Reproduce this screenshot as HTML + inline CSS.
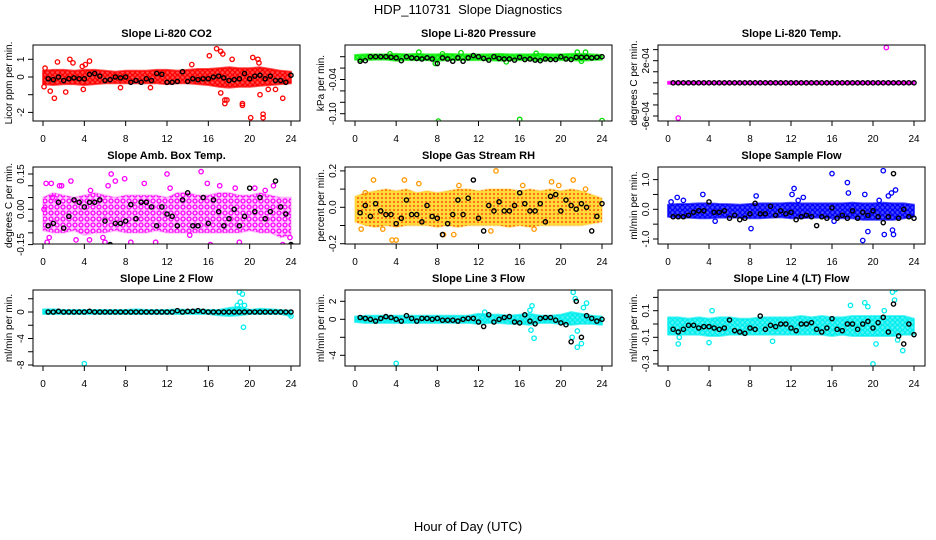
<!DOCTYPE html>
<html><head><meta charset="utf-8"><style>
html,body{margin:0;padding:0;background:#fff;}
svg{display:block;font-family:"Liberation Sans",sans-serif;}
</style></head><body>
<svg id="chart" width="936" height="540" viewBox="0 0 936 540" xmlns="http://www.w3.org/2000/svg">
<defs>
<pattern id="pat-red" width="5" height="5" patternUnits="userSpaceOnUse"><circle cx="2.5" cy="2.5" r="2" fill="none" stroke="#ff0000" stroke-width="1.3"/></pattern>
<pattern id="pat-green" width="5" height="5" patternUnits="userSpaceOnUse"><circle cx="2.5" cy="2.5" r="2" fill="none" stroke="#00ee00" stroke-width="1.3"/></pattern>
<pattern id="pat-magenta" width="6" height="6" patternUnits="userSpaceOnUse"><circle cx="3" cy="3" r="2" fill="none" stroke="#ff00ff" stroke-width="1.3"/></pattern>
<pattern id="pat-orange" width="4" height="4" patternUnits="userSpaceOnUse"><rect width="4" height="4" fill="#ffd000" fill-opacity="0.7"/><circle cx="2" cy="2" r="0.9" fill="#ff3000"/></pattern>
<pattern id="pat-blue" width="5" height="5" patternUnits="userSpaceOnUse"><circle cx="2.5" cy="2.5" r="2" fill="none" stroke="#0000ff" stroke-width="1.3"/></pattern>
<pattern id="pat-cyan" width="5" height="5" patternUnits="userSpaceOnUse"><circle cx="2.5" cy="2.5" r="2" fill="none" stroke="#00eeee" stroke-width="1.3"/></pattern>
</defs>
<text x="468" y="14" text-anchor="middle" font-size="13">HDP_110731&#160;&#160;Slope Diagnostics</text>
<text x="468" y="531" text-anchor="middle" font-size="13">Hour of Day (UTC)</text>
</svg>
<script>
// shared times for black (averaged) series
const blackT = [0.5,1,1.5,2,2.5,3,3.5,4,4.5,5,5.5,6,6.5,7,7.5,8,8.5,9,9.5,10,10.5,11,11.5,12,12.5,13,13.5,14,14.5,15,15.5,16,16.5,17,17.5,18,18.5,19,19.5,20,20.5,21,21.5,22,22.5,23,23.5,24];
const bandHours = [0,1,2,3,4,5,6,7,8,9,10,11,12,13,14,15,16,17,18,19,20,21,22,23,24];
const xTicks = [0,4,8,12,16,20,24];

// Panel 1: CO2
const co2Hi = [0.35,0.4,0.4,0.35,0.4,0.4,0.35,0.3,0.35,0.35,0.35,0.4,0.4,0.35,0.4,0.45,0.45,0.5,0.55,0.5,0.5,0.55,0.45,0.35,0.3];
const co2Lo = [-0.4,-0.45,-0.4,-0.4,-0.45,-0.4,-0.35,-0.35,-0.35,-0.35,-0.35,-0.35,-0.4,-0.35,-0.35,-0.4,-0.45,-0.55,-0.6,-0.55,-0.55,-0.5,-0.45,-0.4,-0.35];
const co2OutX = [0.2,0.7,1.1,1.4,2.2,2.6,2.9,3.9,4.1,4.5,7.5,10.4,14.4,16.1,16.8,17.2,17.4,17.2,17.6,17.6,17.8,18.3,19.3,19.3,20.1,20.3,20.8,20.9,21.0,21.3,21.3,21.8,23.2,22.5,3.8,0.1];
const co2OutY = [0.5,-0.8,-1.2,0.85,-0.85,1.0,0.8,-0.7,0.7,0.9,-0.6,-0.6,0.7,1.2,1.6,1.45,1.3,-0.9,-1.3,-1.5,-1.3,1.0,-1.5,-1.6,-2.3,1.1,1.0,0.8,-1.0,-2.1,-2.3,-0.7,-1.2,-0.7,0.6,-0.55];
const co2Black = [-0.1,-0.15,0.0,-0.2,-0.1,-0.05,-0.1,-0.1,0.15,0.2,0.05,-0.2,-0.15,0.0,-0.05,0.0,-0.3,-0.2,-0.3,-0.1,-0.2,0.2,0.15,-0.3,-0.3,-0.25,0.3,-0.25,-0.1,-0.15,-0.1,-0.1,0.0,0.05,-0.05,-0.2,-0.15,-0.1,0.2,-0.1,0.05,0.1,-0.1,0.05,-0.2,-0.2,-0.3,0.1];

// Panel 2: Pressure
const presHi = [0.003,0.004,0.004,0.004,0.005,0.004,0.005,0.004,0.004,0.005,0.004,0.004,0.004,0.004,0.005,0.004,0.004,0.004,0.005,0.004,0.004,0.005,0.005,0.004,0.003];
const presLo = [-0.005,-0.006,-0.005,-0.005,-0.007,-0.006,-0.006,-0.006,-0.007,-0.006,-0.006,-0.006,-0.006,-0.006,-0.007,-0.006,-0.006,-0.006,-0.007,-0.006,-0.006,-0.006,-0.007,-0.006,-0.005];
const presOutX = [8.1,16,24,6.2,10.3,7.8,21.6,22.4,3.4,17.6,8.5,14.7,22.0,0.5];
const presOutY = [-0.113,-0.11,-0.112,0.008,0.007,-0.012,0.008,0.008,0.005,0.006,0.005,-0.009,-0.008,-0.005];
const presBlack = [-0.008,-0.007,0,0,0,0,-0.001,-0.002,-0.007,0,-0.002,-0.003,-0.004,-0.002,-0.004,-0.012,-0.002,-0.004,-0.008,-0.002,-0.008,-0.002,0.002,0,-0.003,-0.006,0,-0.003,-0.004,-0.004,-0.006,-0.001,-0.005,-0.004,-0.006,-0.007,-0.004,-0.005,-0.005,0,-0.004,-0.005,-0.001,-0.001,-0.001,-0.002,-0.001,0];

// Panel 3: Li-820 Temp
const tempHi = [-1.05e-4,-1.05e-4,-1.05e-4,-1.05e-4,-1.05e-4,-1.05e-4,-1.05e-4,-1.05e-4,-1.05e-4,-1.05e-4,-1.05e-4,-1.05e-4,-1.05e-4,-1.05e-4,-1.05e-4,-1.05e-4,-1.05e-4,-1.05e-4,-1.05e-4,-1.05e-4,-1.05e-4,-1.05e-4,-1.05e-4,-1.05e-4,-1.05e-4];
const tempLo = [-1.35e-4,-1.35e-4,-1.35e-4,-1.35e-4,-1.35e-4,-1.35e-4,-1.35e-4,-1.35e-4,-1.35e-4,-1.35e-4,-1.35e-4,-1.35e-4,-1.35e-4,-1.35e-4,-1.35e-4,-1.35e-4,-1.35e-4,-1.35e-4,-1.35e-4,-1.35e-4,-1.35e-4,-1.35e-4,-1.35e-4,-1.35e-4,-1.35e-4];
const tempOutX = [1.0,21.3];
const tempOutY = [-6.3e-4,3.9e-4];
const tempBlack = [-1.2e-4,-1.2e-4,-1.2e-4,-1.2e-4,-1.2e-4,-1.2e-4,-1.2e-4,-1.2e-4,-1.2e-4,-1.2e-4,-1.2e-4,-1.2e-4,-1.2e-4,-1.2e-4,-1.2e-4,-1.2e-4,-1.2e-4,-1.2e-4,-1.2e-4,-1.2e-4,-1.2e-4,-1.2e-4,-1.2e-4,-1.2e-4,-1.2e-4,-1.2e-4,-1.2e-4,-1.2e-4,-1.2e-4,-1.2e-4,-1.2e-4,-1.2e-4,-1.2e-4,-1.2e-4,-1.2e-4,-1.2e-4,-1.2e-4,-1.2e-4,-1.2e-4,-1.2e-4,-1.2e-4,-1.2e-4,-1.2e-4,-1.2e-4,-1.2e-4,-1.2e-4,-1.2e-4,-1.2e-4];

// Panel 4: Amb. Box Temp
const ambHi = [0.05,0.07,0.06,0.05,0.06,0.07,0.06,0.05,0.06,0.06,0.06,0.06,0.05,0.07,0.07,0.06,0.06,0.07,0.07,0.06,0.06,0.07,0.06,0.05,0.05];
const ambLo = [-0.09,-0.1,-0.1,-0.09,-0.11,-0.1,-0.1,-0.09,-0.1,-0.1,-0.1,-0.09,-0.1,-0.1,-0.1,-0.1,-0.1,-0.1,-0.1,-0.1,-0.09,-0.1,-0.1,-0.12,-0.11];
const ambOutX = [0.1,0.3,0.8,1.6,1.8,0.4,0.6,2.7,3.2,4.5,5.8,6.0,6.3,6.6,7.0,7.4,7.9,8.5,9.8,10.9,12.0,12.3,14.2,15.3,15.9,16.2,17.1,18.1,18.6,19.0,20.5,21.5,22.3,23.2,23.9,0.9,4.6];
const ambOutY = [0.0,0.11,0.11,0.1,0.1,-0.14,-0.12,0.12,-0.13,-0.13,-0.12,-0.14,0.1,0.15,0.12,-0.16,0.13,-0.14,0.11,-0.14,0.15,0.09,-0.11,0.16,0.11,-0.15,0.1,-0.16,0.09,-0.14,0.09,0.08,0.1,-0.15,-0.12,0.05,0.08];
const ambBlack = [-0.07,-0.06,0.03,-0.08,-0.03,0.04,0.03,0.01,0.03,0.03,0.04,-0.05,-0.15,-0.06,-0.06,-0.05,0.02,-0.04,0.03,0.03,0.01,-0.07,0.01,-0.02,-0.03,-0.07,0.04,0.07,-0.07,-0.07,0.05,-0.06,0.04,-0.01,-0.07,-0.04,0.0,-0.07,-0.03,0.09,-0.01,0.05,-0.04,-0.01,0.12,0.01,-0.02,-0.15];

// Panel 5: Gas Stream RH
const rhHi = [0.06,0.08,0.09,0.1,0.09,0.1,0.08,0.09,0.08,0.09,0.1,0.1,0.09,0.1,0.1,0.1,0.09,0.1,0.09,0.1,0.09,0.1,0.09,0.07,0.05];
const rhLo = [-0.08,-0.1,-0.11,-0.1,-0.11,-0.1,-0.1,-0.1,-0.11,-0.1,-0.11,-0.1,-0.1,-0.1,-0.1,-0.11,-0.1,-0.11,-0.1,-0.1,-0.1,-0.1,-0.1,-0.09,-0.08];
const rhOutX = [0.6,1.8,2.7,3.6,4.0,4.8,6.2,8.6,9.6,13.7,13.2,16.3,19.1,19.8,21.2,22.4,1.0,10.1,17.4];
const rhOutY = [-0.12,0.15,-0.12,-0.18,-0.18,0.15,0.13,-0.15,-0.15,0.2,-0.13,0.12,0.14,0.12,0.15,0.1,0.08,0.12,-0.12];
const rhBlack = [-0.03,0.01,-0.05,0.02,-0.02,-0.04,-0.04,-0.09,-0.06,0.04,-0.04,-0.04,-0.08,0.01,-0.05,-0.06,-0.15,-0.09,-0.04,0.04,-0.04,0.05,0.15,-0.06,-0.13,0.01,-0.02,0.03,-0.02,-0.02,0.01,0.08,0.02,-0.02,-0.02,0.02,-0.08,0.06,0.07,-0.02,0.04,0.01,-0.01,0.02,0.0,-0.13,-0.05,0.02];

// Panel 6: Sample Flow
const flowHi = [0.15,0.18,0.18,0.2,0.2,0.18,0.17,0.15,0.18,0.2,0.2,0.2,0.22,0.2,0.2,0.2,0.2,0.2,0.22,0.2,0.2,0.22,0.2,0.2,0.15];
const flowLo = [-0.25,-0.28,-0.28,-0.3,-0.3,-0.28,-0.28,-0.28,-0.3,-0.3,-0.28,-0.27,-0.3,-0.3,-0.28,-0.28,-0.3,-0.3,-0.3,-0.35,-0.35,-0.35,-0.35,-0.3,-0.25];
const flowOutX = [0.3,0.9,3.4,4.6,8.1,8.6,12.1,12.3,12.7,13.2,16.0,16.2,17.5,17.6,19.0,19.2,19.5,20.6,21.0,21.1,21.5,21.8,21.9,22.2,22.0,1.5];
const flowOutY = [0.25,0.4,0.5,-0.4,-0.65,0.45,0.5,0.7,0.3,0.4,1.2,-0.4,0.9,0.55,-1.05,0.5,-0.75,0.3,1.3,-0.85,0.45,0.55,-0.7,0.65,-0.85,0.3];
const flowBlack = [-0.25,-0.25,-0.25,-0.2,-0.1,-0.05,-0.05,0.25,-0.1,-0.1,-0.05,-0.3,-0.2,-0.35,-0.3,-0.15,0.2,-0.15,-0.15,0.1,-0.2,-0.05,-0.15,-0.1,-0.35,-0.25,-0.2,-0.25,-0.55,-0.25,-0.3,0.05,-0.3,-0.2,-0.3,-0.05,-0.3,-0.1,-0.2,-0.05,-0.25,-0.45,-0.25,1.2,-0.3,0.0,-0.25,-0.3];

// Panel 7: Line 2 Flow
const l2Hi = [0.4,0.4,0.3,0.3,0.3,0.3,0.3,0.3,0.3,0.4,0.3,0.3,0.3,0.4,0.3,0.4,0.3,0.3,0.6,0.8,0.3,0.5,0.4,0.3,0.2];
const l2Lo = [-0.3,-0.3,-0.3,-0.3,-0.3,-0.3,-0.3,-0.3,-0.3,-0.3,-0.3,-0.3,-0.3,-0.3,-0.3,-0.3,-0.3,-0.5,-0.6,-0.5,-0.3,-0.3,-0.3,-0.3,-0.6];
const l2OutX = [4.0,19.0,19.3,19.4,18.8,19.1,19.5,24.0];
const l2OutY = [-7.8,3.0,2.7,-2.3,1.0,1.5,1.0,-0.6];
const l2Black = [0,0,0.1,0,0,0,0,0,0.1,0,0,0,0,0,0,0,0,0,0,0,0,0,0,0,0,0.2,0,0.1,0.1,0.2,0.1,0,0,0,0,0,0,0,0,0,0,0,0,0,0,0,0,0];

// Panel 8: Line 3 Flow
const l3Hi = [0.3,0.4,0.4,0.4,0.4,0.4,0.4,0.4,0.4,0.4,0.4,0.4,0.6,0.5,0.5,0.4,0.5,0.6,0.4,0.4,0.5,0.8,0.6,0.4,0.3];
const l3Lo = [-0.3,-0.4,-0.4,-0.4,-0.4,-0.4,-0.4,-0.4,-0.4,-0.4,-0.4,-0.4,-0.5,-0.4,-0.4,-0.5,-0.5,-0.6,-0.4,-0.4,-0.5,-0.6,-0.5,-0.5,-0.6];
const l3OutX = [4.0,17.0,17.2,17.1,17.4,21.2,21.4,21.6,22.0,22.2,22.5,21.1,21.6,12.6];
const l3OutY = [-4.9,1.0,1.5,-1.2,-2.1,3.0,2.3,-3.1,-2.7,1.3,1.8,-2.0,-1.3,0.8];
const l3Black = [0.2,0.1,0.0,-0.2,0.1,0.3,0.2,0.0,-0.2,0.4,0.1,-0.2,0.1,0.1,0.0,0.1,-0.1,-0.1,-0.1,-0.2,0.0,0.1,0.1,-0.3,-0.8,0.5,-0.3,0.0,0.2,0.3,-0.3,-0.4,0.5,-0.2,-0.5,0.1,0.2,0.2,-0.1,-0.4,-0.6,-2.5,2.0,-2.0,0.4,0.1,-0.2,0.0];

// Panel 9: Line 4 (LT) Flow
const l4Hi = [0.05,0.05,0.04,0.05,0.04,0.05,0.05,0.04,0.04,0.05,0.05,0.05,0.05,0.06,0.05,0.06,0.05,0.05,0.06,0.06,0.06,0.06,0.06,0.06,0.04];
const l4Lo = [-0.08,-0.08,-0.08,-0.08,-0.09,-0.09,-0.08,-0.08,-0.08,-0.08,-0.08,-0.08,-0.08,-0.08,-0.08,-0.08,-0.09,-0.08,-0.09,-0.09,-0.09,-0.09,-0.09,-0.08,-0.08];
const l4OutX = [20.0,21.9,22.2,22.1,22.9,1.0,10.2,19.5,20.3,22.4,4.0,4.3,17.8,19.2,1.1,21.1];
const l4OutY = [-0.3,0.24,0.26,0.18,-0.2,-0.15,-0.13,0.13,-0.15,-0.12,-0.14,0.1,0.14,0.16,-0.1,0.1];
const l4Black = [-0.04,-0.06,-0.04,-0.01,-0.01,-0.03,-0.02,-0.02,-0.03,-0.04,-0.03,0.03,-0.05,-0.06,-0.07,-0.03,-0.04,0.06,-0.04,-0.01,-0.02,0.0,0.0,-0.03,-0.05,0.0,0.0,0.01,-0.04,-0.06,-0.03,0.04,-0.04,-0.05,0.0,0.0,-0.04,0.0,0.02,-0.03,0.01,0.05,-0.06,0.15,-0.09,-0.15,0.0,-0.08];

const NS = 'http://www.w3.org/2000/svg';
const svg = document.getElementById('chart');
function mk(tag, attrs, parent) {
  const el = document.createElementNS(NS, tag);
  for (const k in attrs) el.setAttribute(k, attrs[k]);
  (parent || svg).appendChild(el);
  return el;
}
const cols = [{l:33,r:300,x0:43,x1:291},{l:345,r:612,x0:355,x1:602},{l:658,r:925,x0:668,x1:914}];
const rows = [{t:45,b:121},{t:167,b:244},{t:290,b:366}];

function panel(p) {
  const c = cols[p.col], r = rows[p.row];
  const g = mk('g', {});
  
  
  const xs = v => c.x0 + (v / 24) * (c.x1 - c.x0);
  const ys = v => p.py0 + (v - p.v0) * (p.py1 - p.py0) / (p.v1 - p.v0);
  const clip = mk('clipPath', {id: 'clip-' + p.name}, g);
  mk('rect', {x: c.l, y: r.t, width: c.r - c.l, height: r.b - r.t}, clip);
  const dg = mk('g', {'clip-path': 'url(#clip-' + p.name + ')'}, g);
  let pts = [];
  for (let i = 0; i < bandHours.length; i++) pts.push(xs(bandHours[i]).toFixed(1) + ',' + ys(p.hi[i]).toFixed(1));
  for (let i = bandHours.length - 1; i >= 0; i--) pts.push(xs(bandHours[i]).toFixed(1) + ',' + ys(p.lo[i]).toFixed(1));
  const under = mk('polygon', {points: pts.join(' '), fill: p.color, 'fill-opacity': p.op, stroke: p.color, 'stroke-width': 2, 'stroke-opacity': p.op, 'stroke-linejoin': 'round'}, dg);
  
  
  const band = mk('polygon', {points: pts.join(' '), fill: 'url(#' + p.pat + ')'}, dg);
  
  
  for (let i = 0; i < p.ox.length; i++) {
    const pt = mk('circle', {cx: xs(p.ox[i]), cy: ys(p.oy[i]), r: 2.2, fill: 'none', stroke: p.ring, 'stroke-width': 1.3}, dg);
    
    
  }
  for (let i = 0; i < blackT.length; i++) {
    const pt = mk('circle', {cx: xs(blackT[i]), cy: ys(p.blk[i]), r: 2.1, fill: 'none', stroke: '#000', 'stroke-width': 1.4}, dg);
    
    
  }
  const box = mk('rect', {x: c.l, y: r.t, width: c.r - c.l, height: r.b - r.t, fill: 'none', stroke: '#000', 'stroke-width': 1}, g);
  
  
  mk('line', {x1: xs(0), x2: xs(24), y1: r.b, y2: r.b, stroke: '#000'}, g);
  for (const t of xTicks) {
    mk('line', {x1: xs(t), x2: xs(t), y1: r.b, y2: r.b + 5, stroke: '#000'}, g);
    const tl = mk('text', {x: xs(t), y: r.b + 21, 'text-anchor': 'middle', 'font-size': 10}, g);
    
    
    tl.textContent = t;
  }
  for (let i = 0; i < p.yt.length; i++) {
    const y = ys(p.yt[i]);
    mk('line', {x1: c.l - 5, x2: c.l, y1: y, y2: y, stroke: '#000'}, g);
    if (p.yl[i]) {
      const tl = mk('text', {x: 0, y: 0, transform: 'translate(' + (c.l - 9) + ',' + y + ') rotate(-90)', 'text-anchor': 'middle', 'font-size': 10}, g);
      
      
      tl.textContent = p.yl[i];
    }
  }
  const yl = mk('text', {x: 0, y: 0, transform: 'translate(' + (c.l - 21) + ',' + ((r.t + r.b) / 2) + ') rotate(-90)', 'text-anchor': 'middle', 'font-size': 10}, g);
  
  
  yl.textContent = p.ylab;
  const tt = mk('text', {x: (c.l + c.r) / 2, y: r.t - 8, 'text-anchor': 'middle', 'font-size': 11, 'font-weight': 'bold'}, g);
  
  
  tt.textContent = p.title;
}

panel({name:'co2', col:0,row:0,title:'Slope Li-820 CO2',ylab:'Licor ppm per min.',v0:0,py0:77,v1:1,py1:59.3,yt:[-2,-1,0,1],yl:['-2','','0','1'],hi:co2Hi,lo:co2Lo,ox:co2OutX,oy:co2OutY,blk:co2Black,color:'#ff0000',ring:'#ff0000',pat:'pat-red',op:0.7});
panel({name:'pressure', col:1,row:0,title:'Slope Li-820 Pressure',ylab:'kPa per min.',v0:0,py0:56.7,v1:-0.1,py1:113.7,yt:[-0.1,-0.08,-0.06,-0.04,-0.02,0],yl:['-0.10','','','-0.04','',''],hi:presHi,lo:presLo,ox:presOutX,oy:presOutY,blk:presBlack,color:'#00ee00',ring:'#00dd00',pat:'pat-green',op:0.7});
panel({name:'li820-temp', col:2,row:0,title:'Slope Li-820 Temp.',ylab:'degrees C per min.',v0:-6e-4,py0:116,v1:2e-4,py1:60.7,yt:[-6e-4,-4.4e-4,-2.8e-4,-1.2e-4,0.4e-4,2e-4,3.6e-4],yl:['-6e-04','','','','','2e-04',''],hi:tempHi,lo:tempLo,ox:tempOutX,oy:tempOutY,blk:tempBlack,color:'#ff00ff',ring:'#ff00ff',pat:'pat-magenta',op:0.8});
panel({name:'amb-box-temp', col:0,row:1,title:'Slope Amb. Box Temp.',ylab:'degrees C per min.',v0:0,py0:209.3,v1:0.15,py1:174,yt:[-0.15,-0.1,-0.05,0,0.05,0.1,0.15],yl:['-0.15','','','0.00','','','0.15'],hi:ambHi,lo:ambLo,ox:ambOutX,oy:ambOutY,blk:ambBlack,color:'#ff00ff',ring:'#ff00ff',pat:'pat-magenta',op:0.2});
panel({name:'gas-stream-rh', col:1,row:1,title:'Slope Gas Stream RH',ylab:'percent per min.',v0:0,py0:207.3,v1:0.2,py1:170.9,yt:[-0.2,-0.1,0,0.1,0.2],yl:['-0.2','','0.0','','0.2'],hi:rhHi,lo:rhLo,ox:rhOutX,oy:rhOutY,blk:rhBlack,color:'#ffb000',ring:'#ff9900',pat:'pat-orange',op:0.25});
panel({name:'sample-flow', col:2,row:1,title:'Slope Sample Flow',ylab:'ml/min per min.',v0:0,py0:209.3,v1:1,py1:179.6,yt:[-1,-0.5,0,0.5,1],yl:['-1.0','','0.0','','1.0'],hi:flowHi,lo:flowLo,ox:flowOutX,oy:flowOutY,blk:flowBlack,color:'#0000ff',ring:'#0000ff',pat:'pat-blue',op:0.7});
panel({name:'line2-flow', col:0,row:2,title:'Slope Line 2 Flow',ylab:'ml/min per min.',v0:0,py0:312,v1:-4,py1:338.5,yt:[-8,-6,-4,-2,0,2],yl:['-8','','-4','','0',''],hi:l2Hi,lo:l2Lo,ox:l2OutX,oy:l2OutY,blk:l2Black,color:'#00eeee',ring:'#00eeee',pat:'pat-cyan',op:0.7});
panel({name:'line3-flow', col:1,row:2,title:'Slope Line 3 Flow',ylab:'ml/min per min.',v0:0,py0:319.3,v1:2,py1:301.3,yt:[-4,-2,0,2],yl:['-4','','0','2'],hi:l3Hi,lo:l3Lo,ox:l3OutX,oy:l3OutY,blk:l3Black,color:'#00eeee',ring:'#00eeee',pat:'pat-cyan',op:0.7});
panel({name:'line4-flow', col:2,row:2,title:'Slope Line 4 (LT) Flow',ylab:'ml/min per min.',v0:0.1,py0:310.7,v1:-0.1,py1:337.3,yt:[-0.3,-0.2,-0.1,0,0.1,0.2],yl:['-0.3','','-0.1','','0.1',''],hi:l4Hi,lo:l4Lo,ox:l4OutX,oy:l4OutY,blk:l4Black,color:'#00eeee',ring:'#00eeee',pat:'pat-cyan',op:0.65});
</script>
</body></html>
